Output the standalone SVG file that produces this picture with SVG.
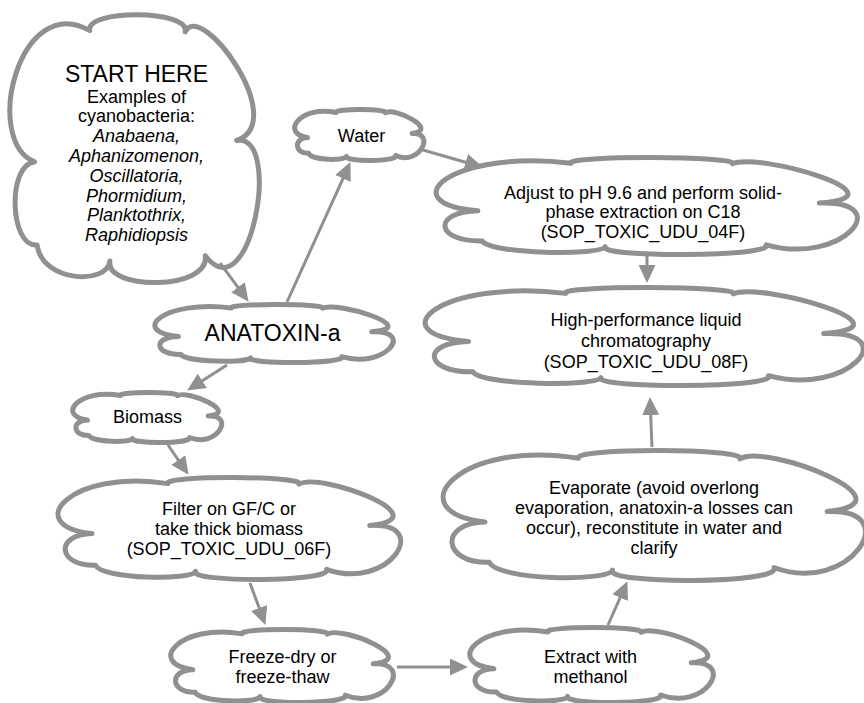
<svg xmlns="http://www.w3.org/2000/svg" width="864" height="703" viewBox="0 0 864 703">
<defs>
<style>
text { font-family: "Liberation Sans", Arial, sans-serif; font-size: 18px; fill: #000; text-anchor: middle; }
.big { font-size: 23px; }
.it { font-style: italic; }
.conn { stroke: #909090; stroke-width: 3; fill: none; marker-end: url(#arr); }
</style>
<symbol id="cloud" viewBox="0 0 1000 1000" preserveAspectRatio="none" overflow="visible">
<path fill="#ffffff" stroke="#909090" stroke-width="5" stroke-linejoin="round" vector-effect="non-scaling-stroke" d="M100 550 C-110 470 40 -90 320 60 C300 -20 720 -20 700 65 C760 -60 1120 400 905 470 C1090 440 960 1120 780 900 C800 1030 380 1030 400 920 C390 1010 130 1000 110 860 C0 870 -10 560 100 550 Z"/>
</symbol>
<marker id="arr" markerUnits="userSpaceOnUse" markerWidth="18" markerHeight="17" viewBox="0 0 18 17" refX="7" refY="8.5" orient="auto">
<path d="M0,0 L18,8.5 L0,17 Z" fill="#909090"/>
</marker>
</defs>
<rect width="864" height="703" fill="#ffffff"/>

<g id="n-start">
<use href="#cloud" x="9.5" y="14.5" width="251" height="268"/>
<text x="136.5" y="81.5" class="big">START HERE</text>
<text x="136.5" y="102.5">Examples of</text>
<text x="136.5" y="122.3">cyanobacteria:</text>
<text x="136.5" y="142.1" class="it">Anabaena,</text>
<text x="136.5" y="161.9" class="it">Aphanizomenon,</text>
<text x="136.5" y="181.7" class="it">Oscillatoria,</text>
<text x="136.5" y="201.5" class="it">Phormidium,</text>
<text x="136.5" y="221.3" class="it">Planktothrix,</text>
<text x="136.5" y="241" class="it">Raphidiopsis</text>
</g>

<g id="n-water">
<use href="#cloud" x="294.5" y="109.5" width="130" height="51"/>
<text x="361.5" y="141.5">Water</text>
</g>

<g id="n-spe">
<use href="#cloud" x="435.5" y="157.5" width="424" height="97"/>
<text x="643" y="198.5">Adjust to pH 9.6 and perform solid-</text>
<text x="643" y="218">phase extraction on C18</text>
<text x="643" y="237.5">(SOP_TOXIC_UDU_04F)</text>
</g>

<g id="n-hplc">
<use href="#cloud" x="424.5" y="287.5" width="441" height="98"/>
<text x="646" y="325.5">High-performance liquid</text>
<text x="646" y="346.5">chromatography</text>
<text x="646" y="367.5">(SOP_TOXIC_UDU_08F)</text>
</g>

<g id="n-anatoxin">
<use href="#cloud" x="154.5" y="304.5" width="240" height="58"/>
<text x="272.5" y="341" class="big">ANATOXIN-a</text>
</g>

<g id="n-biomass">
<use href="#cloud" x="72.5" y="392.5" width="150" height="50"/>
<text x="147.5" y="422.5">Biomass</text>
</g>

<g id="n-filter">
<use href="#cloud" x="57.5" y="477.5" width="345" height="102"/>
<text x="229" y="514.5">Filter on GF/C or</text>
<text x="229" y="534.5">take thick biomass</text>
<text x="229" y="554.5">(SOP_TOXIC_UDU_06F)</text>
</g>

<g id="n-evaporate">
<use href="#cloud" x="442.5" y="450.5" width="425" height="130"/>
<text x="654" y="493.5">Evaporate (avoid overlong</text>
<text x="654" y="513.5">evaporation, anatoxin-a losses can</text>
<text x="654" y="533.5">occur), reconstitute in water and</text>
<text x="654" y="553.5">clarify</text>
</g>

<g id="n-freeze">
<use href="#cloud" x="170.5" y="629.5" width="224" height="73"/>
<text x="282.5" y="662.5">Freeze-dry or</text>
<text x="282.5" y="682.5">freeze-thaw</text>
</g>

<g id="n-extract">
<use href="#cloud" x="469.5" y="627.5" width="245" height="75"/>
<text x="590.5" y="662.5">Extract with</text>
<text x="590.5" y="682.5">methanol</text>
</g>

<g id="connectors">
<line class="conn" x1="220" y1="263" x2="242.1" y2="292.9"/>
<line class="conn" x1="287" y1="302" x2="345.9" y2="172.1"/>
<line class="conn" x1="423" y1="150" x2="472.4" y2="164.2"/>
<line class="conn" x1="647" y1="256" x2="647" y2="272"/>
<line class="conn" x1="227" y1="365" x2="196.4" y2="384.6"/>
<line class="conn" x1="168" y1="445" x2="182.3" y2="465.8"/>
<line class="conn" x1="250" y1="583" x2="261.6" y2="614.6"/>
<line class="conn" x1="397" y1="667" x2="457" y2="667"/>
<line class="conn" x1="608" y1="625" x2="623" y2="591.2"/>
<line class="conn" x1="652" y1="447" x2="650.4" y2="408"/>
</g>
</svg>
